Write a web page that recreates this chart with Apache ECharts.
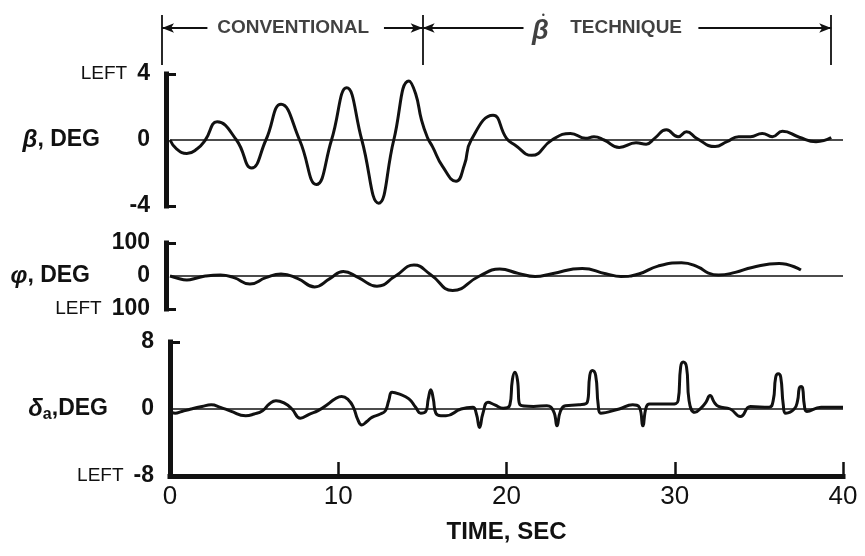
<!DOCTYPE html>
<html>
<head>
<meta charset="utf-8">
<script src="https://cdn.jsdelivr.net/npm/echarts@6/dist/echarts.min.js"></script>
<style>html,body{margin:0;padding:0;background:#fff}#c{width:865px;height:556px}</style>
</head>
<body>
<div id="c"></div>
<script>
// time (s), sideslip beta (deg)
const betaData = [[0,0],[0.4,-0.55],[1.0,-0.82],[1.6,-0.55],[2.1,0],[2.8,1.1],[3.95,0],[4.85,-1.7],[5.7,0],[6.6,2.16],[7.7,0],[8.7,-2.7],[9.6,0],[10.5,3.16],[11.4,0],[12.4,-3.83],[13.3,0],[14.2,3.58],[14.6,2.8],[14.95,1.2],[15.3,0.15],[15.6,-0.4],[16.2,-1.6],[17.0,-2.5],[17.5,-1.5],[17.9,0],[19.2,1.5],[20.0,0.1],[20.5,-0.3],[21.5,-0.93],[22.7,0],[23.8,0.4],[24.7,0.1],[25.2,0.2],[25.8,0],[26.7,-0.45],[27.7,-0.17],[28.3,-0.25],[28.8,0.1],[29.5,0.62],[30.2,0.2],[30.7,0.5],[31.3,0.1],[32.4,-0.4],[33.1,-0.1],[33.8,0.2],[34.5,0.2],[35.2,0.4],[35.8,0.2],[36.4,0.53],[37.4,0.17],[38.4,-0.1],[39.3,0.15]];
// time (s), roll angle phi (deg)
const phiData = [[0,0],[0.4,-6],[1.0,-12],[1.6,-6],[2.1,0],[3.0,3],[3.8,-5],[4.75,-24],[5.7,-5],[6.6,6],[7.6,-8],[8.6,-33],[9.5,-8],[10.3,14],[11.2,-5],[12.3,-31],[13.4,0],[14.5,33],[15.5,4],[16.8,-44],[18.4,0],[19.6,21],[20.7,8],[21.7,-1.5],[22.7,7],[24.5,23],[25.9,7],[26.8,-1.5],[27.9,7],[29.0,30],[30.4,40],[31.4,27],[32.0,9],[32.6,3],[33.6,11],[34.6,26],[36.2,38],[37.5,18]];
// time (s), aileron deflection delta_a (deg)
const deltaData = [[0,-0.3],[0.3,-0.5],[0.7,-0.3],[1.25,0],[1.9,0.3],[2.45,0.5],[3.0,0.2],[3.6,-0.25],[4.5,-0.8],[5.0,-0.6],[5.5,-0.2],[5.9,0.6],[6.3,1.0],[6.8,0.7],[7.25,0],[7.75,-1.1],[8.3,-0.6],[8.8,-0.2],[9.4,0.6],[9.8,1.2],[10.2,1.5],[10.6,1.1],[10.9,0.2],[11.15,-1.2],[11.4,-1.9],[11.7,-1.5],[12.0,-1.0],[12.5,-0.6],[12.8,-0.2],[13.0,1.0],[13.2,2.0],[13.6,1.8],[14.2,1.2],[14.6,0.2],[14.9,-0.5],[15.2,-0.3],[15.35,1.2],[15.5,2.3],[15.65,1.2],[15.8,-0.5],[16.1,-0.8],[16.4,-0.8],[17.3,0],[18.0,0.2],[18.2,-0.5],[18.4,-2.2],[18.6,-0.5],[18.9,0.8],[19.3,0.5],[19.8,0.1],[20.2,0.5],[20.35,3.5],[20.5,4.4],[20.65,3.5],[20.8,0.5],[21.6,0.3],[22.4,0.4],[22.8,-0.3],[23.0,-2.0],[23.2,-0.3],[23.5,0.4],[24.3,0.5],[24.8,0.8],[24.95,4.0],[25.1,4.6],[25.3,4.0],[25.45,0.5],[25.6,-0.5],[26.7,0],[27.5,0.5],[27.9,0.2],[28.1,-2.0],[28.3,0.2],[28.5,0.6],[29.8,0.6],[30.2,1.0],[30.35,5.0],[30.5,5.6],[30.7,5.0],[30.85,1.0],[31.2,-0.4],[31.6,0.2],[31.85,0.8],[32.1,1.6],[32.35,0.8],[32.6,0.3],[33.3,0],[33.9,-0.9],[34.5,0.3],[35.6,0.2],[35.85,1.0],[36.0,3.8],[36.15,4.2],[36.3,3.8],[36.45,0.5],[36.6,-0.5],[37.1,0],[37.3,1.0],[37.4,2.5],[37.5,2.7],[37.6,2.5],[37.7,0.5],[37.85,-0.3],[38.7,0.2],[40,0.2]];

const xTicks = [0, 10, 20, 30, 40];
const betaTicks = [-4, 0, 4];
const phiTicks = [-100, 0, 100];
const deltaTicks = [-8, 0, 8];
// phase annotation (time, s)
const phaseBars = [-0.5, 15, 39.3];
const phaseArrows = [[2.2, -0.5], [12.7, 15], [21.0, 15], [31.4, 39.3]];
const phaseLabels = [['CONVENTIONAL', 7.3], ['BETADOT', 22.0], ['TECHNIQUE', 27.1]];

const FONT = '"Liberation Sans", Arial, sans-serif';
const BLACK = '#111';

function yAxisCommon(gridIndex, min, max, ticks, tickVals, offset, nameRich, nameGap, fmt) {
  return {
    type: 'value', gridIndex, min, max, offset,
    name: nameRich, nameLocation: 'middle', nameRotate: 0, nameGap, nameMoveOverlap: false,
    nameTextStyle: {
      rich: {
        g: {fontFamily: FONT, fontSize: 24, fontWeight: 'bold', fontStyle: 'italic', color: BLACK},
        t: {fontFamily: FONT, fontSize: 23, fontWeight: 'bold', color: BLACK},
        s: {fontFamily: FONT, fontSize: 16, fontWeight: 'bold', color: BLACK, verticalAlign: 'bottom', padding: [12, 0, 0, 0]}
      }
    },
    axisLine: {show: true, onZero: false, lineStyle: {color: BLACK, width: 5, cap: 'square'}},
    axisTick: {show: true, inside: true, length: 10, customValues: tickVals, lineStyle: {color: BLACK, width: 3}},
    axisLabel: {
      show: true, margin: 16, customValues: ticks, formatter: fmt,
      fontFamily: FONT, fontSize: 23, fontWeight: 'bold', color: BLACK,
      rich: {
        l: {fontFamily: FONT, fontSize: 19, fontWeight: 'normal', color: BLACK, padding: [0, 10, 0, 0]},
        n: {fontFamily: FONT, fontSize: 23, fontWeight: 'bold', color: BLACK}
      }
    },
    splitLine: {show: false}
  };
}

const zeroLine = {
  silent: true, symbol: 'none', label: {show: false},
  lineStyle: {color: BLACK, width: 1.5, type: 'solid'},
  data: [{yAxis: 0}]
};

function traceSeries(idx, data) {
  return {
    type: 'line', xAxisIndex: idx, yAxisIndex: idx, data, smooth: 0.5,
    showSymbol: false, lineStyle: {color: BLACK, width: 3},
    markLine: zeroLine, z: 3
  };
}

const markLineData = [];
phaseBars.forEach(t => markLineData.push([{coord: [t, 0], symbol: 'none'}, {coord: [t, 1], symbol: 'none'}]));
phaseArrows.forEach(a => markLineData.push([{coord: [a[0], 0.74], symbol: 'none'}, {coord: [a[1], 0.74], symbol: 'arrow', symbolSize: [7, 12]}]));

const gridBase = {left: 170, right: 22, outerBoundsMode: 'none', containLabel: false};

const chart = echarts.init(document.getElementById('c'), null, {renderer: 'canvas'});
chart.setOption({
  backgroundColor: '#fff',
  animation: false,
  grid: [
    Object.assign({}, gridBase, {top: 74, height: 132}),
    Object.assign({}, gridBase, {top: 243, height: 66}),
    Object.assign({}, gridBase, {top: 342, height: 134}),
    Object.assign({}, gridBase, {left: 162, top: 15, height: 50})
  ],
  xAxis: [
    {type: 'value', gridIndex: 0, min: 0, max: 40, show: false},
    {type: 'value', gridIndex: 1, min: 0, max: 40, show: false},
    {
      type: 'value', gridIndex: 2, min: 0, max: 40, interval: 10,
      name: 'TIME, SEC', nameLocation: 'middle', nameGap: 44, nameMoveOverlap: false,
      nameTextStyle: {fontFamily: FONT, fontSize: 24, fontWeight: 'bold', color: BLACK},
      axisLine: {show: true, onZero: false, lineStyle: {color: BLACK, width: 5, cap: 'square'}},
      axisTick: {show: true, inside: true, length: 14, customValues: xTicks.slice(1), lineStyle: {color: BLACK, width: 2.5}},
      axisLabel: {margin: 8, fontFamily: FONT, fontSize: 26, color: BLACK, customValues: xTicks},
      splitLine: {show: false}
    },
    {type: 'value', gridIndex: 3, min: -0.5, max: 40, show: false}
  ],
  yAxis: [
    yAxisCommon(0, -4, 4, betaTicks, [-4, 4], 4, '{g|β}{t|, DEG}', 66,
      v => v === 4 ? '{l|LEFT}{n|4}' : '{n|' + v + '}'),
    yAxisCommon(1, -100, 100, phiTicks, [-100, 100], 4, '{g|φ}{t|, DEG}', 76,
      v => v === -100 ? '{l|LEFT}{n|100}' : '{n|' + v + '}'),
    yAxisCommon(2, -8, 8, deltaTicks, [8], 0, '{g|δ}{s|a}{t|,DEG}', 62,
      v => v === -8 ? '{l|LEFT}{n|-8}' : '{n|' + v + '}'),
    {type: 'value', gridIndex: 3, min: 0, max: 1, show: false}
  ],
  series: [
    traceSeries(0, betaData),
    traceSeries(1, phiData),
    traceSeries(2, deltaData),
    {
      type: 'scatter', xAxisIndex: 3, yAxisIndex: 3, symbolSize: 0, silent: true,
      data: phaseLabels.map(p => ({name: p[0], value: [p[1], 0.74]})),
      label: {
        show: true, position: 'inside', color: BLACK,
        fontFamily: FONT, fontSize: 20,
        formatter: p => p.name === 'BETADOT' ? '{d|•}\n{b|β}' : '{t|' + p.name + '}',
        rich: {
          d: {fontFamily: FONT, fontSize: 9, color: BLACK, align: 'center', lineHeight: 8, padding: [0, 0, 0, 6]},
          b: {fontFamily: FONT, fontSize: 27, fontWeight: 'bold', fontStyle: 'italic', color: BLACK, align: 'center', lineHeight: 24},
          t: {fontFamily: FONT, fontSize: 19, fontWeight: 'bold', color: BLACK}
        }
      },
      markLine: {
        silent: true, label: {show: false},
        lineStyle: {color: BLACK, width: 1.8, type: 'solid'},
        data: markLineData
      }
    }
  ]
});
</script>
</body>
</html>
